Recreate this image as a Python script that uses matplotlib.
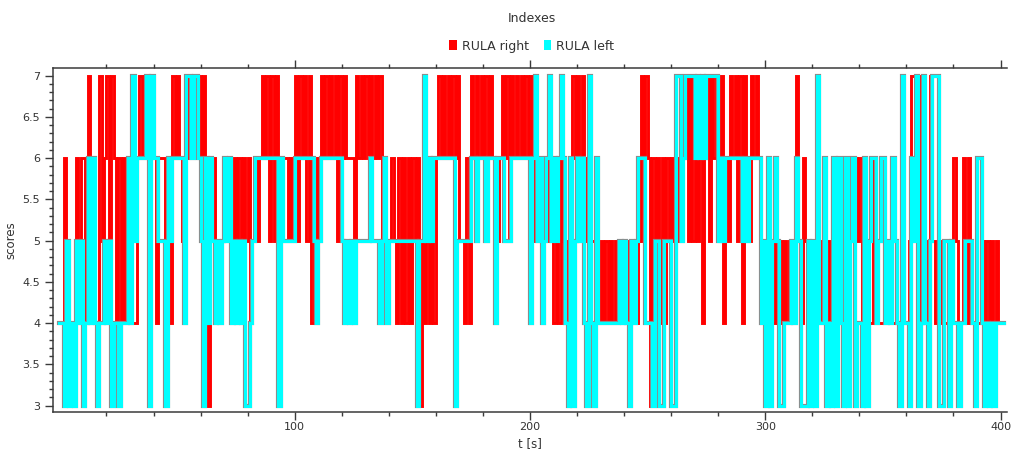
import numpy as np
import matplotlib
matplotlib.use("Agg")
import matplotlib.pyplot as plt
import matplotlib.patheffects as pe
from matplotlib.patches import Patch
from matplotlib.ticker import MultipleLocator, FixedLocator

# RULA scores sampled once per second (one digit per second), t = 0 .. 401 s
rula_right_rows = [
    "4465444646", "6474444756", "7576464646", "4446767676", "6466646476",
    "7654676767", "6743564545", "5565656565", "6456567675", "7574666565",
    "7576757464", "6767676757", "6766657676", "7676767564", "5654646464",
    "6563545454", "6767676767", "5546476767", "6767665676", "7576767676",
    "7656565656", "4546545476", "7676565554", "5454545454", "5454545767",
    "6365646465", "6565667575", "6564675767", "5746576757", "4765767645",
    "5444545454", "5447546545", "4444545444", "5656546565", "6444446544",
    "4545444474", "4577547645", "7544454444", "6544646443", "4454545454",
    "44",
]
rula_left_rows = [
    "4435343545", "3464643445", "4534434446", "4756666737", "6655536566",
    "6664776776", "5364654545", "6564545453", "3456666666", "6663655555",
    "6666666654", "5666666666", "5454545555", "5565554564", "5555555555",
    "5535575656", "6666666635", "5555566566", "6566646665", "5566666666",
    "4675645675", "6567643635", "6564374364", "4444444454", "5435456664",
    "4435533555", "3377567777", "6767677777", "5656666666", "5656666645",
    "3635653344", "4546533353", "5374463436", "3643635634", "4363566456",
    "6454654374", "4365734743", "5777335535", "4434455543", "6643434344",
    "44",
]
series_labels = ["RULA right", "RULA left"]
series_colors = ["#ff0000", "#00ffff"]
x_major_ticks = [100, 200, 300, 400]


def to_values(rows):
    return np.array([int(c) for c in "".join(rows)], dtype=float)


right = to_values(rula_right_rows)
left = to_values(rula_left_rows)
t = np.arange(len(right), dtype=float)
# hold the last sample for half a second
t_ext = np.append(t, t[-1] + 0.5)
right_ext = np.append(right, right[-1])
left_ext = np.append(left, left[-1])

plt.rcParams["font.family"] = ["DejaVu Sans"]
text_color = "#333333"
spine_color = "#3a3a3a"

fig = plt.figure(figsize=(10.11, 4.51), dpi=100)
ax = fig.add_axes([0.0527, 0.0871, 0.9430, 0.7615])

ax.plot(t_ext, right_ext, drawstyle="steps-post", color=series_colors[0],
        lw=2.1, solid_joinstyle="miter", zorder=2)
ax.plot(t_ext, left_ext, drawstyle="steps-post", color=series_colors[1],
        lw=2.2, solid_joinstyle="miter", zorder=3,
        path_effects=[pe.Stroke(linewidth=3.0, foreground="#8c8c8c"), pe.Normal()])

ax.set_xlim(-2.6, 402.6)
ax.set_ylim(2.927, 7.09)

ax.xaxis.set_major_locator(FixedLocator(x_major_ticks))
ax.xaxis.set_minor_locator(FixedLocator([v for v in range(20, 401, 20) if v % 100]))
ax.yaxis.set_major_locator(MultipleLocator(0.5))
ax.yaxis.set_minor_locator(MultipleLocator(0.1))
ax.yaxis.set_major_formatter(plt.FuncFormatter(lambda v, p: f"{v:g}"))

ax.tick_params(axis="x", which="both", direction="out", top=True, bottom=True,
               labeltop=False, colors=spine_color, labelcolor=text_color,
               labelsize=8, pad=2)
ax.tick_params(axis="x", which="major", length=5.5, width=1)
ax.tick_params(axis="x", which="minor", length=3, width=1)
ax.tick_params(axis="y", which="both", direction="out", left=True, right=False,
               colors=spine_color, labelcolor=text_color, labelsize=8, pad=3.5)
ax.tick_params(axis="y", which="major", length=6, width=1)
ax.tick_params(axis="y", which="minor", length=3, width=1)

for side in ["left", "top", "bottom"]:
    ax.spines[side].set_color(spine_color)
    ax.spines[side].set_linewidth(1.1)
ax.spines["right"].set_visible(False)

ax.set_xlabel("t [s]", fontsize=8.5, color=text_color, va="center")
ax.set_ylabel("scores", fontsize=8.5, color=text_color, va="center")
ax.xaxis.set_label_coords(0.5, -0.094)
ax.yaxis.set_label_coords(-0.044, 0.5)

fig.text(0.526, 0.958, "Indexes", ha="center", va="center", fontsize=9, color=text_color)
handles = [Patch(facecolor=c, edgecolor="none") for c in series_colors]
fig.legend(handles, series_labels, loc="center", bbox_to_anchor=(0.526, 0.898),
           ncol=2, frameon=False, fontsize=9, handlelength=0.6, handleheight=0.9,
           handletextpad=0.4, columnspacing=1.2, labelcolor=text_color)

fig.savefig("out.png", dpi=100)
